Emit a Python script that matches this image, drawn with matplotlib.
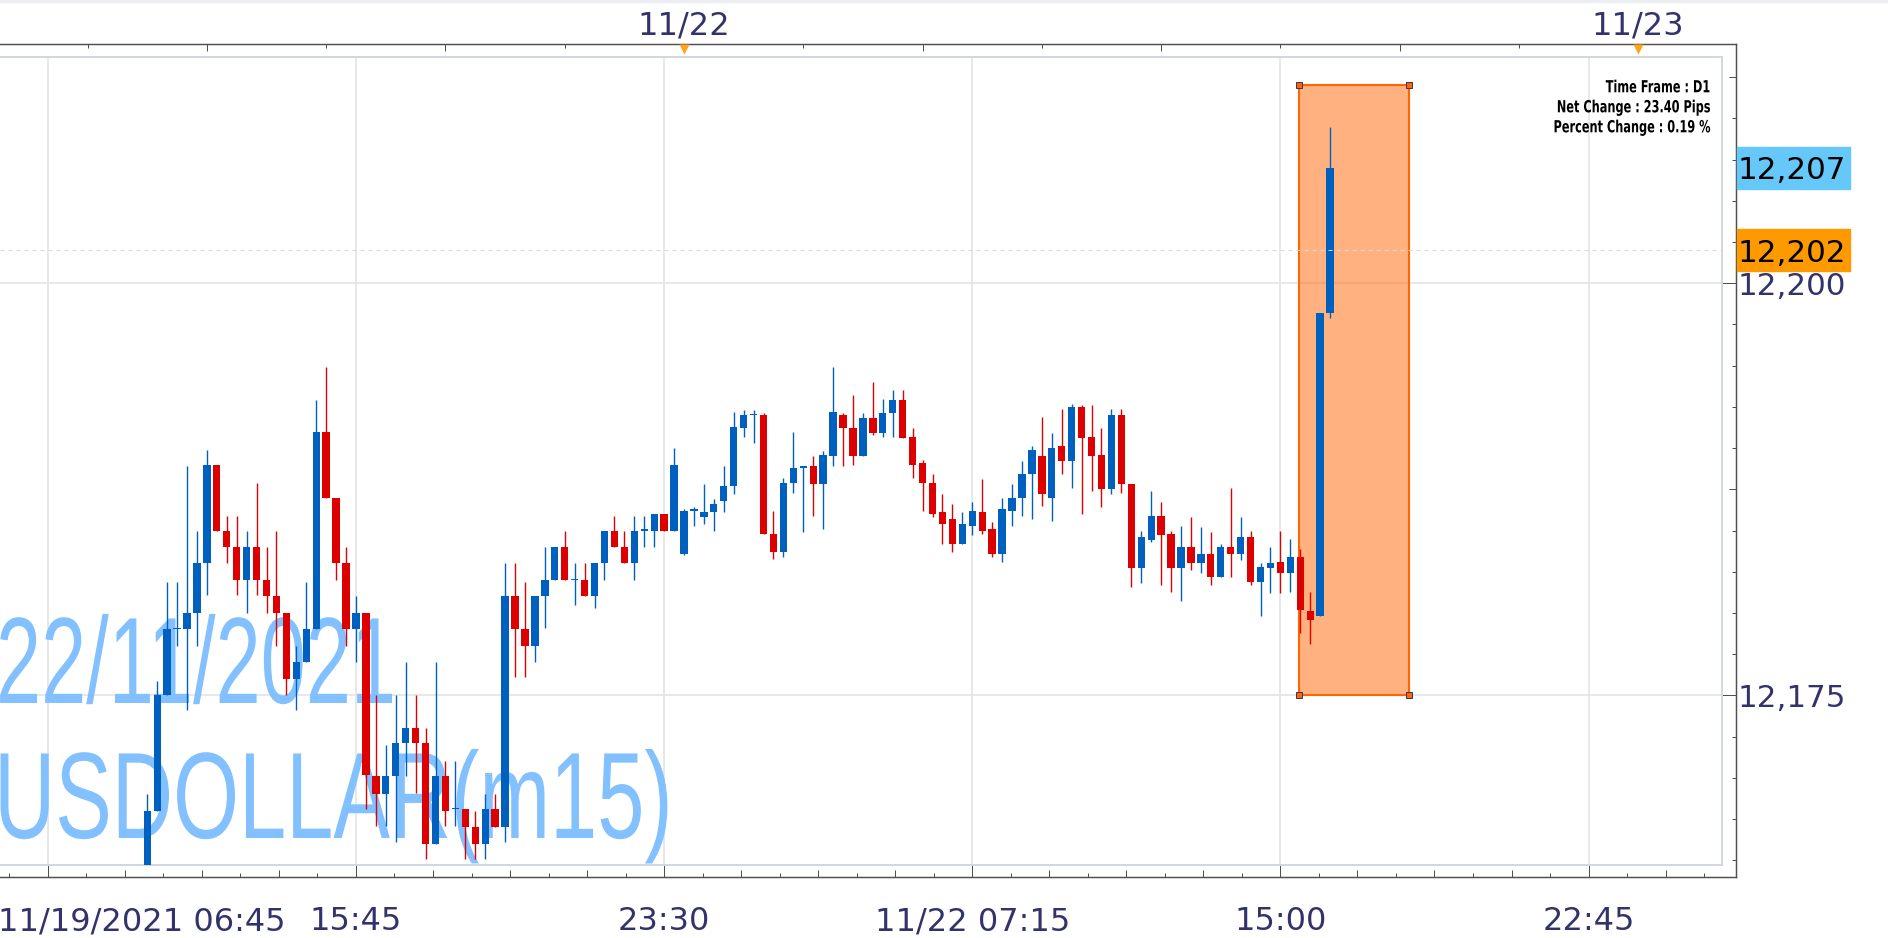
import numpy as np
import matplotlib
matplotlib.use("Agg")
import matplotlib.pyplot as plt
import matplotlib.transforms as mtransforms
from matplotlib.patches import Rectangle
from matplotlib.patheffects import AbstractPathEffect
from matplotlib import font_manager

# ---- data (15 min bars, bar 0 = 11/22 00:00) ----
bars = list(range(-54, 66))
opens = [12162.5, 12168.0, 12175.0, 12179.0, 12179.0, 12180.0, 12183.0, 12189.0, 12185.0, 12184.0,
         12182.0, 12184.0, 12182.0, 12181.0, 12180.0, 12176.0, 12177.0, 12179.0, 12191.0, 12187.0,
         12183.0, 12179.0, 12180.0, 12170.1, 12169.0, 12170.1, 12172.1, 12173.0, 12172.1, 12166.0,
         12170.1, 12168.1, 12168.1, 12167.0, 12166.0, 12168.1, 12167.0, 12181.0, 12179.0, 12178.0,
         12181.0, 12182.0, 12184.0, 12182.0, 12182.0, 12181.0, 12183.0, 12185.0, 12184.0, 12183.0,
         12185.0, 12185.0, 12186.0, 12185.0, 12183.6, 12186.2, 12185.8, 12186.1, 12186.8, 12187.7,
         12191.2, 12192.0, 12192.0, 12184.8, 12183.7, 12187.9, 12188.8, 12188.9, 12187.8, 12189.5,
         12192.0, 12191.2, 12189.5, 12191.8, 12190.9, 12192.1, 12192.9, 12190.7, 12189.1, 12187.9,
         12186.1, 12185.7, 12184.2, 12185.3, 12186.1, 12185.1, 12183.6, 12186.2, 12187.0, 12188.4,
         12189.5, 12187.0, 12190.1, 12189.2, 12192.5, 12190.7, 12189.6, 12187.5, 12192.0, 12187.8,
         12182.7, 12184.4, 12185.9, 12184.8, 12182.7, 12184.0, 12183.0, 12183.6, 12182.2, 12184.0,
         12183.6, 12184.6, 12181.9, 12182.7, 12183.1, 12182.4, 12183.4, 12180.1, 12179.8, 12198.2]
highs = [12169.0, 12175.9, 12181.9, 12181.9, 12188.9, 12185.0, 12189.9, 12189.0, 12185.9, 12185.9,
         12185.0, 12187.9, 12184.0, 12185.0, 12180.0, 12178.0, 12181.9, 12192.9, 12194.9, 12187.0,
         12184.0, 12181.0, 12180.0, 12175.0, 12172.0, 12175.0, 12177.0, 12175.0, 12173.0, 12177.0,
         12171.0, 12171.0, 12168.1, 12168.0, 12169.0, 12169.0, 12183.0, 12183.0, 12181.9, 12181.0,
         12184.0, 12184.0, 12185.0, 12183.0, 12183.0, 12183.0, 12185.0, 12185.9, 12185.0, 12185.9,
         12185.9, 12186.0, 12186.0, 12190.0, 12186.3, 12186.4, 12187.8, 12186.9, 12188.9, 12192.2,
         12192.3, 12192.3, 12192.1, 12186.2, 12188.2, 12191.0, 12188.9, 12189.5, 12189.8, 12194.9,
         12192.1, 12193.2, 12192.1, 12194.0, 12193.0, 12193.5, 12193.5, 12191.2, 12189.3, 12188.4,
         12187.2, 12186.6, 12186.1, 12186.7, 12188.1, 12185.5, 12187.0, 12187.8, 12189.2, 12190.1,
         12191.9, 12190.9, 12192.4, 12192.7, 12192.6, 12192.6, 12191.2, 12192.4, 12192.4, 12187.8,
         12185.0, 12187.4, 12186.7, 12185.0, 12185.3, 12185.8, 12185.2, 12184.9, 12184.2, 12187.6,
         12185.8, 12185.0, 12183.0, 12184.0, 12185.0, 12184.5, 12183.9, 12181.3, 12198.2, 12209.5]
lows = [12162.5, 12168.0, 12175.0, 12178.0, 12174.1, 12178.0, 12181.1, 12185.0, 12183.0, 12181.1,
        12180.0, 12181.1, 12180.0, 12178.0, 12175.0, 12174.1, 12177.0, 12179.0, 12187.0, 12182.0,
        12178.0, 12177.0, 12168.1, 12167.1, 12167.1, 12166.1, 12170.1, 12169.1, 12165.1, 12166.0,
        12167.1, 12167.1, 12165.1, 12165.1, 12165.1, 12167.0, 12166.1, 12176.1, 12176.1, 12177.0,
        12179.1, 12182.0, 12182.0, 12180.5, 12181.0, 12180.3, 12182.0, 12184.0, 12183.0, 12182.0,
        12184.0, 12184.0, 12185.0, 12185.0, 12183.5, 12185.3, 12185.4, 12185.0, 12186.1, 12187.2,
        12190.7, 12190.3, 12184.8, 12183.3, 12183.4, 12187.3, 12184.9, 12185.9, 12185.1, 12188.9,
        12188.9, 12189.0, 12189.5, 12190.8, 12190.7, 12190.7, 12190.6, 12188.2, 12186.2, 12185.8,
        12184.2, 12183.7, 12184.2, 12184.7, 12184.8, 12183.4, 12183.1, 12185.3, 12185.9, 12185.7,
        12186.5, 12185.6, 12188.4, 12187.6, 12186.0, 12187.4, 12186.4, 12187.2, 12187.3, 12181.6,
        12181.8, 12184.3, 12181.7, 12181.3, 12180.7, 12182.6, 12182.4, 12181.7, 12182.2, 12182.2,
        12183.2, 12181.7, 12179.8, 12181.2, 12181.2, 12181.3, 12178.8, 12178.1, 12179.8, 12197.9]
closes = [12168.0, 12175.0, 12179.0, 12179.0, 12180.0, 12183.0, 12189.0, 12185.0, 12184.0, 12182.0,
          12184.0, 12182.0, 12181.0, 12180.0, 12176.0, 12177.0, 12179.0, 12191.0, 12187.0, 12183.0,
          12179.0, 12180.0, 12170.2, 12169.0, 12170.1, 12172.1, 12173.0, 12172.1, 12166.0, 12170.1,
          12168.0, 12168.1, 12167.0, 12166.0, 12168.1, 12167.0, 12181.0, 12179.0, 12178.0, 12181.0,
          12182.0, 12184.0, 12182.0, 12182.0, 12181.0, 12183.0, 12185.0, 12184.0, 12183.0, 12185.0,
          12185.0, 12186.0, 12185.0, 12189.0, 12186.2, 12186.2, 12186.1, 12186.6, 12187.7, 12191.3,
          12192.0, 12192.0, 12184.8, 12183.7, 12187.9, 12188.8, 12188.8, 12187.8, 12189.6, 12192.2,
          12191.2, 12189.5, 12191.8, 12190.9, 12192.1, 12192.9, 12190.6, 12189.0, 12187.9, 12186.0,
          12185.4, 12184.2, 12185.4, 12186.2, 12185.0, 12183.6, 12186.3, 12187.0, 12188.4, 12189.9,
          12187.2, 12190.0, 12189.2, 12192.5, 12190.6, 12189.5, 12187.5, 12192.0, 12187.8, 12182.7,
          12184.6, 12185.9, 12184.7, 12182.7, 12184.0, 12183.0, 12183.6, 12182.2, 12184.0, 12183.6,
          12184.6, 12181.9, 12182.8, 12183.0, 12182.4, 12183.4, 12180.2, 12179.6, 12198.2, 12207.0]

grid_bars = [-64, -33, -2, 29, 60, 91]
bottom_labels = ["11/19/2021 06:45", "15:45", "23:30", "11/22 07:15", "15:00", "22:45"]
day_bars = [0, 96]
day_labels = ["11/22", "11/23"]
price_ticks = [12175, 12200]
price_labels = ["12,175", "12,200"]
last_price, last_label = 12207, "12,207"
ask_price, ask_label = 12202, "12,202"
box_left, box_right = 61.9, 72.9
box_low, box_high = 12175, 12212
info_lines = ["Time Frame : D1", "Net Change : 23.40 Pips", "Percent Change : 0.19 %"]
wm_lines = ["22/11/2021", "USDOLLAR(m15)"]

# ---- pixel layout ----
W, H = 1888, 938
BAR0_PX, BAR_PX = 684.0, 9.94        # x pixel of bar 0, pixels per bar
REF_PX, UNIT_PX = 283.2, 16.488       # y pixel of 12,200, pixels per point


def bar_at(px):
    return (px - BAR0_PX) / BAR_PX


def val_at(py):
    return 12200 + (REF_PX - py) / UNIT_PX


def fx(px):
    return px / W


def fy(py):
    return 1 - py / H


class Squeeze(AbstractPathEffect):
    """draw text narrower (horizontal scale about an anchor in pixels)"""
    def __init__(self, sx, anchor_x=None):
        super().__init__()
        self.sx = sx
        self.anchor_x = anchor_x

    def draw_path(self, renderer, gc, tpath, affine, rgbFace=None):
        x0 = affine.get_matrix()[0, 2] if self.anchor_x is None else self.anchor_x
        sq = mtransforms.Affine2D().translate(-x0, 0).scale(self.sx, 1).translate(x0, 0)
        renderer.draw_path(gc, tpath, affine + sq, rgbFace)


names = {f.name for f in font_manager.fontManager.ttflist}
if "Liberation Sans Narrow" in names:
    info_font, info_sx = "Liberation Sans Narrow", 1.0
else:
    info_font, info_sx = "DejaVu Sans", 0.68

NAVY = "#33336b"
BLUE = "#0060c0"
RED = "#dd0000"
AXC = "#505050"

fig = plt.figure(figsize=(W / 100, H / 100), dpi=100)
fig.patch.set_facecolor("white")
fig.patches.append(Rectangle((0, fy(2)), 1, 2 / H, transform=fig.transFigure,
                             color="#eceef2", zorder=0))

# outer frame with the ticks
ax_o = fig.add_axes([0, fy(877), fx(1736), (877 - 44) / H], zorder=0)
ax_o.patch.set_visible(False)
ax_o.set_xlim(bar_at(0), bar_at(1736))
ax_o.set_ylim(val_at(877), val_at(44))
ax_o.spines["left"].set_visible(False)
for s in ["top", "right", "bottom"]:
    ax_o.spines[s].set_color(AXC)
    ax_o.spines[s].set_linewidth(0.9)

idx = np.arange(-1, 44)
eighth = grid_bars[0] + 3.875 * idx
ax_o.set_xticks(eighth[idx % 8 == 0])
ax_o.set_xticks(eighth[(idx % 2 == 0) & (idx % 8 != 0)], minor=True)
ax_o.tick_params(axis="x", which="major", direction="in", length=12 * 0.72, width=0.72,
                 color=AXC, labelbottom=False, top=False)
ax_o.tick_params(axis="x", which="minor", direction="in", length=7 * 0.72, width=0.72,
                 color=AXC, top=False)
sec_b = ax_o.secondary_xaxis("bottom")
sec_b.set_xticks(eighth[idx % 2 == 1])
sec_b.tick_params(direction="in", length=4 * 0.72, width=0.72, color=AXC, labelbottom=False)
sec_b.spines["bottom"].set_color(AXC)
sec_b.spines["bottom"].set_linewidth(0.9)

top_t = np.arange(-60, 106, 12)
sec_t = ax_o.secondary_xaxis("top")
sec_t.set_xticks(top_t[top_t % 24 == 0])
sec_t.set_xticks(top_t[top_t % 24 != 0], minor=True)
sec_t.tick_params(which="major", direction="in", length=7 * 0.72, width=0.72, color=AXC,
                  labeltop=False)
sec_t.tick_params(which="minor", direction="in", length=3.5 * 0.72, width=0.72, color=AXC)
sec_t.spines["top"].set_color(AXC)
sec_t.spines["top"].set_linewidth(0.9)

yv = np.arange(12165, 12214, 2.5)
ax_o.yaxis.tick_right()
ax_o.set_yticks(yv[yv % 25 == 0])
ax_o.set_yticks(yv[(yv % 12.5 == 0) & (yv % 25 != 0)], minor=True)
ax_o.tick_params(axis="y", which="major", direction="in", length=14 * 0.72, width=0.72,
                 color=AXC, labelright=False, left=False)
ax_o.tick_params(axis="y", which="minor", direction="in", length=7 * 0.72, width=0.72,
                 color=AXC, left=False)
sec_r = ax_o.secondary_yaxis("right")
sec_r.set_yticks(yv[yv % 12.5 != 0])
sec_r.tick_params(direction="in", length=4 * 0.72, width=0.72, color=AXC, labelright=False)
sec_r.spines["right"].set_color(AXC)
sec_r.spines["right"].set_linewidth(0.9)

# day markers on top axis
tri = ax_o.get_xaxis_transform() + mtransforms.ScaledTranslation(0, -5 / 100, fig.dpi_scale_trans)
ax_o.plot(day_bars, [1] * len(day_bars), transform=tri, ls="none", marker="v", ms=6.5,
          color="#ffa31a", mec="none", clip_on=False, zorder=5)
xt_fig = mtransforms.blended_transform_factory(ax_o.transData, fig.transFigure)
for b, lab in zip(day_bars, day_labels):
    ax_o.text(b, fy(35), lab, transform=xt_fig, ha="center", va="baseline",
              fontsize=23, color=NAVY, family="DejaVu Sans", clip_on=False)

# time labels under the chart
for k, (b, lab) in enumerate(zip(grid_bars, bottom_labels)):
    if k == 0:
        fig.text(fx(-2), fy(930), lab, ha="left", va="baseline", fontsize=23,
                 color=NAVY, family="DejaVu Sans")
    else:
        ax_o.text(b, fy(930), lab, transform=xt_fig, ha="center", va="baseline",
                  fontsize=23, color=NAVY, family="DejaVu Sans", clip_on=False)

# price labels on the right
yt_fig = mtransforms.blended_transform_factory(fig.transFigure, ax_o.transData)
base_off = mtransforms.offset_copy(yt_fig, fig=fig, y=-11.3, units="dots")
for v, lab in zip(price_ticks, price_labels):
    ax_o.text(fx(1738), v, lab, transform=base_off, ha="left", va="baseline",
              fontsize=22.3, color=NAVY, family="DejaVu Sans", clip_on=False)
box_h = 42 / UNIT_PX
for v, lab, col in [(last_price, last_label, "#66c8f8"), (ask_price, ask_label, "#ff9900")]:
    ax_o.add_patch(Rectangle((fx(1737), v - box_h / 2), fx(1850) - fx(1737), box_h,
                             transform=yt_fig, color=col, clip_on=False, zorder=3))
    ax_o.text(fx(1738), v, lab, transform=base_off, ha="left", va="baseline",
              fontsize=22.3, color="black", family="DejaVu Sans", clip_on=False, zorder=4)

# main chart area
ax = fig.add_axes([0, fy(865), fx(1722), (865 - 57) / H], zorder=1)
ax.set_facecolor("white")
ax.set_xlim(bar_at(0), bar_at(1722))
ax.set_ylim(val_at(865), val_at(57))
for s in ax.spines.values():
    s.set_color("#d3d7de")
    s.set_linewidth(1.44)
ax.spines["left"].set_visible(False)
ax.set_xticks(grid_bars)
ax.set_yticks(price_ticks)
ax.tick_params(length=0, labelbottom=False, labelleft=False)
ax.set_axisbelow(True)
ax.grid(True, color="#e2e2e2", lw=1.1)

# watermark
for lab, py, px, sx in zip(wm_lines, [703, 838], [-4, -6], [0.66, 0.69]):
    ax.text(fx(px), fy(py), lab, transform=fig.transFigure, ha="left", va="baseline",
            fontsize=88.5, color="#82c0ff", family="Liberation Sans", zorder=1,
            path_effects=[Squeeze(sx)])

# measured range box
ax.add_patch(Rectangle((box_left, box_low), box_right - box_left, box_high - box_low,
                       facecolor=(1, 0.4, 0, 0.5), edgecolor="#ff6600", lw=1.5, zorder=1.5))

# candles
o = np.array(opens)
c = np.array(closes)
cols = [BLUE if cc >= oo else RED for oo, cc in zip(o, c)]
ax.vlines(bars, lows, highs, colors=cols, lw=1.0, zorder=3)
ax.bar(bars, np.maximum(np.abs(c - o), 0.09), bottom=np.minimum(o, c), width=0.74,
       color=cols, linewidth=0, zorder=4)

ax.axhline(ask_price, color="#d8d8d8", lw=0.72, ls=(0, (4, 4)), zorder=5)
ax.plot([box_left, box_right, box_left, box_right], [box_high, box_high, box_low, box_low],
        ls="none", marker="s", ms=5, mfc="#ff6600", mec=NAVY, mew=0.7, zorder=6, clip_on=False)

for k, lab in enumerate(info_lines):
    ax.text(fx(1710), fy(92.3 + 20 * k), lab, transform=fig.transFigure, ha="right",
            va="baseline", fontsize=12, fontweight="bold", family=info_font, color="black",
            zorder=7, path_effects=[Squeeze(info_sx, anchor_x=1710)])

fig.savefig("out.png", dpi=100, facecolor="white")
